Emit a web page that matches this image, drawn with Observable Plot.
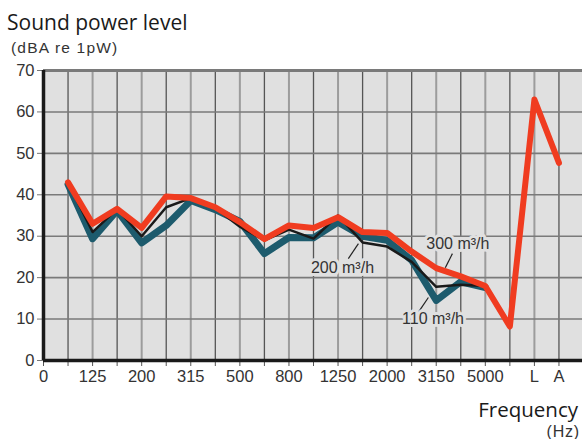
<!DOCTYPE html>
<html>
<head>
<meta charset="utf-8">
<script src="https://cdn.jsdelivr.net/npm/d3@7"></script>
<script src="https://cdn.jsdelivr.net/npm/@observablehq/plot@0.6"></script>
<style>
  html, body { margin: 0; padding: 0; background: #fff; }
  #wrap { position: relative; width: 582px; height: 439px; overflow: hidden; }
  #wrap svg { position: absolute; left: 0; top: 0; }
  .t { position: absolute; white-space: nowrap; color: #1a1a1a; line-height: 1; }
</style>
</head>
<body>
<div id="wrap">
  <div class="t" style="left:7px; top:8px; font: 21px 'Open Sans', sans-serif;">Sound power level</div>
  <div class="t" style="left:11px; top:39px; font: 15.5px 'Liberation Sans', Arial, sans-serif; letter-spacing:1.2px; color:#333;">(dBA re 1pW)</div>
  <div class="t" style="right:4px; top:395px; font: 20.5px 'Open Sans', sans-serif;">Frequency</div>
  <div class="t" style="right:2px; top:423px; font: 16px 'Liberation Sans', Arial, sans-serif; letter-spacing:0.8px; color:#333;">(Hz)</div>
</div>
<script>
// Frequency band categories (index positions along the x axis)
const categories = ["0","100","125","160","200","250","315","400","500","630","800","1000","1250","1600","2000","2500","3150","4000","5000","6300","L","A"];
const shownLabels = ["0","125","200","315","500","800","1250","2000","3150","5000","L","A"];
const yTicks = [0,10,20,30,40,50,60,70];

// Series values (from index 1 = 100 Hz)
const flow300 = [43, 33, 36.6, 32, 39.6, 39.2, 37, 33.4, 29.3, 32.6, 32, 34.6, 31, 30.8, 26.3, 22.3, 20.3, 18, 8.2, 63, 47.7];
const flow200 = [43, 31, 36.6, 30, 37, 39.2, 36.8, 32.3, 29, 31.6, 29.4, 35, 28.5, 27.5, 23.8, 17.8, 18.3, 18];
const flow110 = [42.5, 29.4, 36.2, 28.4, 32.6, 38.6, 36.4, 33.6, 25.8, 29.7, 29.6, 33.4, 30, 29, 24.2, 14.5, 19, 17.6];

// Annotation labels (in data units: category index, dB)
const annoText = ["200 m³/h", "300 m³/h", "110 m³/h"];
const annoX = [12.18, 16.88, 15.87];
const annoY = [22.4, 28.2, 10.1];
const leadX1 = [12.42, 16.37, 15.27];
const leadY1 = [24.6, 22.4, 11.6];
const leadX2 = [12.83, 16.66, 15.68];
const leadY2 = [28.2, 25.8, 15.2];

const toRows = (vals) => vals.map((v, i) => ({i: i + 1, v}));
const idx = d3.range(0, 23);
const annos = annoText.map((t, k) => ({t, x: annoX[k], y: annoY[k], x1: leadX1[k], y1: leadY1[k], x2: leadX2[k], y2: leadY2[k]}));

const tickFont = "'Liberation Sans', Arial, sans-serif";

const chart = Plot.plot({
  width: 582,
  height: 439,
  marginLeft: 43,
  marginRight: 0,
  marginTop: 70,
  marginBottom: 79,
  x: {type: "linear", domain: [0, 22], range: [43, 583], axis: null},
  y: {domain: [0, 70], axis: null},
  style: {background: "transparent", color: "#333"},
  marks: [
    Plot.frame({fill: "#e0e0e0", stroke: null}),
    Plot.ruleX(idx.filter(i => i % 2 === 0 && i > 0), {y1: 0, y2: 70, stroke: "#9c9c9c", strokeWidth: 2}),
    Plot.ruleX(idx.filter(i => i % 2 === 1), {y1: 0, y2: 70, stroke: "#555", strokeWidth: 1.3}),
    Plot.ruleY(yTicks.filter(v => v > 0 && v < 70), {stroke: "#7a7a7a", strokeWidth: 1.6}),
    Plot.ruleY([70], {stroke: "#7a7a7a", strokeWidth: 3}),
    Plot.line(toRows(flow110), {x: "i", y: "v", stroke: "#1d5b6d", strokeWidth: 7, strokeLinejoin: "round"}),
    Plot.line(toRows(flow200), {x: "i", y: "v", stroke: "#1a1a1a", strokeWidth: 2.5, strokeLinejoin: "round"}),
    Plot.line(toRows(flow300), {x: "i", y: "v", stroke: "#f03c20", strokeWidth: 6, strokeLinejoin: "round"}),
    Plot.link(annos, {x1: "x1", y1: "y1", x2: "x2", y2: "y2", stroke: "#222", strokeWidth: 1.2}),
    Plot.text(annos, {x: "x", y: "y", text: "t", fontSize: 16, fontFamily: tickFont, fill: "#333", stroke: "#e0e0e0", strokeWidth: 6}),
    Plot.axisX({
      ticks: idx.slice(0, 22),
      tickFormat: i => shownLabels.includes(categories[i]) ? categories[i] : "",
      tickSize: 6, tickPadding: 4, fontSize: 16.5, fontFamily: tickFont,
      stroke: "#555", fill: "#333"
    }),
    Plot.axisY({
      ticks: yTicks, tickSize: 6, tickPadding: 3, fontSize: 16.5, fontFamily: tickFont,
      stroke: "#777", fill: "#333"
    }),
    Plot.ruleY([0], {stroke: "#1a1a1a", strokeWidth: 3.5}),
    Plot.ruleX([0], {y1: 0, y2: 70, stroke: "#1a1a1a", strokeWidth: 3.5})
  ]
});
document.getElementById("wrap").prepend(chart);
</script>
</body>
</html>
